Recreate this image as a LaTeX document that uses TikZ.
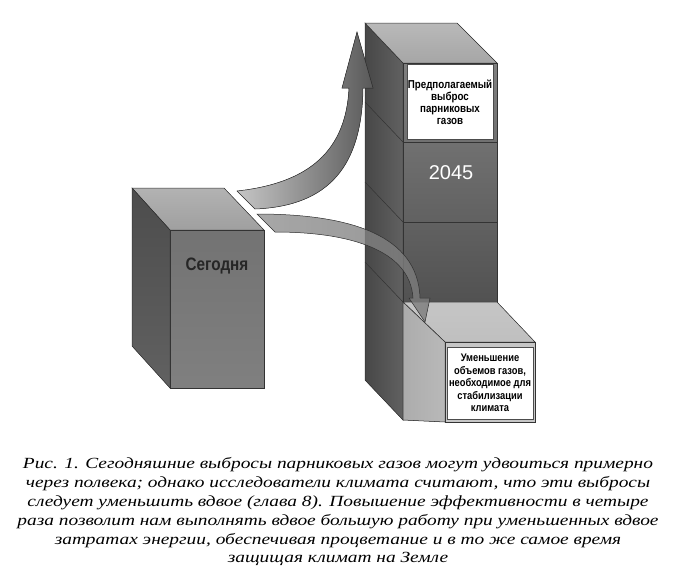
\documentclass[tikz,border=0pt]{standalone}
\usepackage{fontspec}
\setmainfont{Liberation Serif}
\newfontfamily\lab{Liberation Sans}
\begin{document}
\begin{tikzpicture}[x=1pt,y=-1pt,
  edge/.style={draw=black!80,line width=0.5pt},
  lbl/.style={font=\lab\bfseries\fontsize{11.5}{12}\selectfont,align=center,inner sep=0pt,xscale=0.85},
  captxt/.style={font=\itshape\fontsize{15.5}{15}\selectfont,anchor=base,xscale=1.25}]
\useasboundingbox (0,0) rectangle (676,582);
% left box
\fill[edge,top color=gray!60,bottom color=gray!75] (132,188) -- (224,188) -- (264,230) -- (170,230) -- cycle;
\fill[edge,top color=black!70,bottom color=black!62] (132,188) -- (170,230) -- (170,388) -- (132,346) -- cycle;
\fill[edge,top color=black!55,bottom color=black!50] (170,230) rectangle (264,388);
\node[lbl,font=\lab\bfseries\fontsize{18}{19}\selectfont,text=black!85] (seg) at (217,266) {Сегодня};
% tall column
\fill[edge,left color=black!72,right color=black!62] (365,23) -- (403,63) -- (403,420) -- (365,380) -- cycle;
\fill[edge,top color=gray!55,bottom color=gray!70] (365,23) -- (457,23) -- (497,63) -- (403,63) -- cycle;
\fill[edge,top color=black!50,bottom color=black!68] (403,63) rectangle (497,302);
\draw[edge] (403,142) -- (497,142) (403,222) -- (497,222);
\draw[edge] (365,102) -- (403,142) (365,182) -- (403,222) (365,262) -- (403,302);
\node[fill=white,draw=black!70,minimum width=86pt,minimum height=75pt,inner sep=0pt] (top) at (450,102) {};
\node[lbl,text=black] (toptxt) at (450,102) {Предполагаемый\\выброс\\парниковых\\газов};
\node[font=\lab\fontsize{20}{21}\selectfont,text=white] (y2045) at (451,173) {2045};
% lower box
\fill[edge,top color=gray!45,bottom color=gray!50] (403,302) -- (497,302) -- (535,342) -- (445,342) -- cycle;
\fill[edge,left color=gray!65,right color=gray!55] (403,302) -- (445,342) -- (445,422) -- (403,420) -- cycle;
\fill[edge,fill=gray!45] (445,342) rectangle (535,422);
\node[fill=white,draw=black!70,minimum width=86pt,minimum height=72pt,inner sep=0pt] (low) at (490,383) {};
\node[lbl,font=\lab\bfseries\fontsize{11}{12.5}\selectfont,text=black] (lowtxt) at (490,383) {Уменьшение\\объемов газов,\\необходимое для\\стабилизации\\климата};
% upper arrow
\fill[edge,left color=gray!45,right color=black!65]
  (237,191) .. controls (310,183) and (346,150) .. (349,88) -- (342,88) -- (357,32) -- (373,88) -- (363,88)
  .. controls (362,165) and (330,206) .. (255,209) -- cycle;
% lower arrow
\fill[edge,fill opacity=0.55,left color=gray!35,right color=gray!60]
  (257,214) .. controls (350,214) and (418,235) .. (420,298) -- (430,298) -- (425,322) -- (409,298) -- (413,298)
  .. controls (410,250) and (350,232) .. (275,232) -- cycle;
% caption
\node[captxt] (c1) at (338,468) {Рис. 1. Сегодняшние выбросы парниковых газов могут удвоиться примерно};
\node[captxt] (c2) at (338,487) {через полвека; однако исследователи климата считают, что эти выбросы};
\node[captxt] (c3) at (338,506) {следует уменьшить вдвое (глава 8). Повышение эффективности в четыре};
\node[captxt] (c4) at (338,525) {раза позволит нам выполнять вдвое большую работу при уменьшенных вдвое};
\node[captxt] (c5) at (338,544) {затратах энергии, обеспечивая процветание и в то же самое время};
\node[captxt] (c6) at (338,562) {защищая климат на Земле};
\end{tikzpicture}
\end{document}
